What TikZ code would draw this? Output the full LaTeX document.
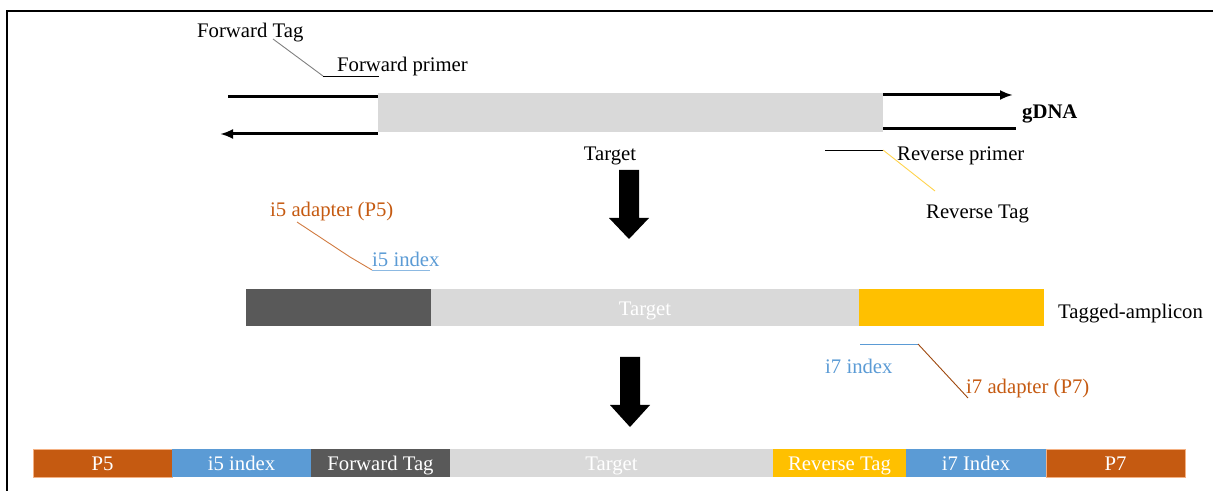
\documentclass[tikz,border=0pt]{standalone}
\usepackage{fontspec}
\setmainfont{Liberation Serif}
\usetikzlibrary{positioning,arrows.meta}
\definecolor{adaptorange}{HTML}{C55A11}
\definecolor{adaptedge}{HTML}{F4B183}
\definecolor{indexblue}{HTML}{5B9BD5}
\definecolor{tagdark}{HTML}{595959}
\definecolor{targetgrey}{HTML}{D9D9D9}
\definecolor{tagyellow}{HTML}{FFC000}
\definecolor{leadergrey}{HTML}{808080}
\newcommand{\lblfont}{\fontsize{20.8}{24}\selectfont}
\tikzset{
  lbl/.style={font=\lblfont, inner sep=0pt, anchor=west, text height=20bp, text depth=4.5bp},
  seg/.style={inner sep=0pt, outer sep=0pt, font=\lblfont, text=white, minimum height=28bp,
    text height=20bp, text depth=4.5bp},
  strand/.style={line width=3bp},
  leader/.style={line width=0.9bp},
  strandtip/.style={-{Latex[length=13bp,width=10bp]}}
}
\begin{document}
\begin{tikzpicture}[x=1bp,y=-1bp]
  \useasboundingbox (0,0) rectangle (1213,491);
  % frame
  \draw[line width=2bp] (7,491) -- (7,11) -- (1213,11);

  % gDNA with primers
  \node[fill=targetgrey, minimum width=505bp, minimum height=39bp, inner sep=0pt, outer sep=0pt] (gdna) at (630.5,112.5) {};
  \coordinate (topl) at (228,97);
  \coordinate (botl) at (220,134);
  \coordinate (topr) at (1013,95);
  \coordinate (botr) at (1016,129);
  \draw[strand] (topl) -- (gdna.west |- topl);
  \draw[strand,strandtip] (gdna.west |- botl) -- (botl);
  \draw[strand,strandtip] (gdna.east |- topr) -- (topr);
  \draw[strand] (gdna.east |- botr) -- (botr);
  \node[lbl, font=\lblfont\bfseries] (gdnalbl) at (1022,111) {gDNA};

  \node[lbl] (fwdtag) at (197,30) {Forward Tag};
  \node[lbl] (fwdprimer) at (337,64) {Forward primer};
  \coordinate (fk1) at (273,39);
  \coordinate (fk2) at (323,76);
  \coordinate (fk3) at (379,76);
  \draw[leader, leadergrey] (fk1) -- (fk2);
  \draw[leader] (fk2) -- (fk3);

  \node[lbl, anchor=center] (target) at (610,153) {Target};
  \node[lbl] (revprimer) at (897,153) {Reverse primer};
  \node[lbl] (revtag) at (926,211) {Reverse Tag};
  \coordinate (rk1) at (825,150);
  \coordinate (rk2) at (883,150);
  \coordinate (rk3) at (935,191);
  \draw[leader] (rk1) -- (rk2);
  \draw[leader, tagyellow!70] (rk2) -- (rk3);

  % first step
  \fill (619,170) -- (639,170) -- (639,218) -- (649,218) -- (629,239) -- (609,218) -- (619,218) -- cycle;

  % tagged amplicon
  \node[seg, fill=tagdark, minimum width=185bp, minimum height=37bp, anchor=west] (amptag5) at (246,307.5) {};
  \node[seg, fill=targetgrey, minimum width=428bp, minimum height=37bp, right=0pt of amptag5] (amptarget) {Target};
  \node[seg, fill=tagyellow, minimum width=185bp, minimum height=37bp, right=0pt of amptarget] (amptag7) {};
  \node[lbl] (tagged) at (1058,311) {Tagged-amplicon};

  \node[lbl, text=adaptorange] (i5adapter) at (270,209) {i5 adapter (P5)};
  \node[lbl, text=indexblue] (i5idx) at (372,259) {i5 index};
  \coordinate (ik1) at (297,222);
  \coordinate (ik2) at (350,257);
  \coordinate (ik3) at (372,270);
  \coordinate (ik4) at (430,270);
  \draw[leader, adaptorange!80] (ik1) -- (ik2) -- (ik3);
  \draw[leader, indexblue!70] (ik3) -- (ik4);

  \node[lbl, text=indexblue] (i7idx) at (825,366) {i7 index};
  \node[lbl, text=adaptorange] (i7adapter) at (966,386) {i7 adapter (P7)};
  \coordinate (jk1) at (860,344);
  \coordinate (jk2) at (918,344);
  \coordinate (jk3) at (968,398);
  \draw[leader, indexblue] (jk1) -- (jk2);
  \draw[leader, adaptorange!80!black] (jk2) -- (jk3);

  % second step
  \fill (620,357) -- (640,357) -- (640,405) -- (650,405) -- (630,427) -- (610,405) -- (620,405) -- cycle;

  % sequencing library
  \node[seg, fill=adaptorange, draw=adaptedge, line width=1bp, minimum width=139bp, anchor=west] (p5) at (33,463) {P5};
  \node[seg, fill=indexblue, minimum width=139bp, right=0pt of p5] (i5seg) {i5 index};
  \node[seg, fill=tagdark, minimum width=139bp, right=0pt of i5seg] (fwdseg) {Forward Tag};
  \node[seg, fill=targetgrey, minimum width=323bp, right=0pt of fwdseg] (targetseg) {Target};
  \node[seg, fill=tagyellow, minimum width=133bp, right=0pt of targetseg] (revseg) {Reverse Tag};
  \node[seg, fill=indexblue, minimum width=140bp, right=0pt of revseg] (i7seg) {i7 Index};
  \node[seg, fill=adaptorange, draw=adaptedge, line width=1bp, minimum width=139bp, right=0pt of i7seg] (p7) {P7};
\end{tikzpicture}
\end{document}
